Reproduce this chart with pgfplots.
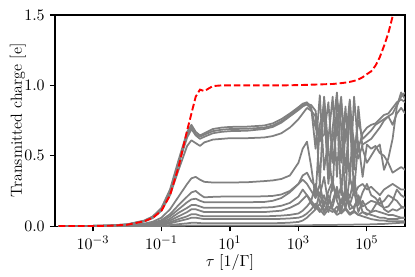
\documentclass[border=0pt]{standalone}
\usepackage{pgfplots}
\usepackage{pgfplotstable}
\pgfplotsset{compat=1.18}
\definecolor{mplgray}{RGB}{128,128,128}

% tau, red dashed curve (r), gray curves g1..g13
\pgfplotstableread{
tau      r      g1     g2     g3     g4     g5     g6     g7     g8     g9     g10    g11    g12    g13
1e-4     0.000  0.000  0.000  0.000  0.000  0.000  0.000  0.000  0.000  0.000  0.000  0.000  0.000  0.000
1e-3     0.001  0.002  0.002  0.002  0.002  0.001  0.001  0.001  0.001  0.001  0.001  0.000  0.000  0.000
3.162e-3 0.003  0.005  0.005  0.005  0.004  0.002  0.002  0.002  0.001  0.001  0.001  0.001  0.000  0.000
1e-2     0.010  0.013  0.012  0.012  0.011  0.006  0.004  0.004  0.003  0.002  0.002  0.001  0.001  0.000
3.162e-2 0.035  0.040  0.038  0.036  0.033  0.018  0.013  0.011  0.008  0.006  0.004  0.003  0.001  0.000
5.623e-2 0.060  0.070  0.067  0.064  0.058  0.032  0.023  0.019  0.015  0.011  0.008  0.006  0.002  0.001
0.1      0.110  0.130  0.125  0.120  0.110  0.060  0.043  0.035  0.027  0.020  0.014  0.010  0.004  0.001
0.1778   0.220  0.260  0.250  0.240  0.220  0.120  0.085  0.070  0.053  0.040  0.028  0.020  0.008  0.002
0.3162   0.420  0.470  0.455  0.440  0.400  0.210  0.150  0.120  0.095  0.070  0.050  0.035  0.014  0.003
0.5623   0.680  0.670  0.650  0.630  0.570  0.300  0.210  0.170  0.130  0.100  0.070  0.050  0.020  0.004
0.7499   0.800  0.720  0.700  0.690  0.610  0.340  0.240  0.190  0.150  0.120  0.085  0.060  0.024  0.004
1        0.920  0.670  0.655  0.645  0.590  0.350  0.250  0.195  0.150  0.120  0.085  0.060  0.024  0.005
1.334    0.970  0.645  0.635  0.620  0.570  0.330  0.225  0.180  0.140  0.110  0.075  0.055  0.022  0.005
1.778    0.960  0.660  0.650  0.635  0.595  0.315  0.205  0.170  0.130  0.100  0.070  0.050  0.020  0.005
3.162    0.995  0.690  0.675  0.660  0.615  0.310  0.208  0.170  0.130  0.100  0.070  0.050  0.020  0.005
5.623    1.000  0.700  0.685  0.670  0.620  0.310  0.210  0.170  0.130  0.100  0.070  0.050  0.020  0.005
10       1.000  0.705  0.690  0.675  0.625  0.310  0.210  0.170  0.130  0.100  0.070  0.050  0.020  0.005
31.62    1.000  0.707  0.692  0.678  0.625  0.312  0.210  0.170  0.130  0.100  0.070  0.050  0.020  0.005
100      1.000  0.715  0.700  0.690  0.630  0.320  0.212  0.172  0.132  0.100  0.070  0.050  0.020  0.005
177.8    1.000  0.730  0.715  0.705  0.640  0.325  0.215  0.180  0.135  0.105  0.072  0.050  0.021  0.005
316.2    1.000  0.760  0.745  0.735  0.660  0.335  0.225  0.200  0.145  0.110  0.075  0.052  0.022  0.005
562.3    1.001  0.800  0.790  0.780  0.700  0.360  0.250  0.240  0.165  0.130  0.080  0.055  0.025  0.005
1000     1.002  0.845  0.835  0.825  0.760  0.450  0.300  0.300  0.210  0.160  0.090  0.060  0.030  0.006
1334     1.003  0.870  0.860  0.850  0.800  0.550  0.360  0.330  0.260  0.190  0.110  0.070  0.040  0.006
1778     1.004  0.880  0.870  0.865  0.840  0.600  0.380  0.300  0.220  0.220  0.140  0.090  0.060  0.007
2371     1.005  0.840  0.860  0.830  0.820  0.420  0.320  0.250  0.180  0.160  0.180  0.120  0.090  0.007
3162     1.006  0.550  0.820  0.700  0.780  0.200  0.280  0.200  0.300  0.120  0.140  0.160  0.120  0.008
4217     1.007  0.930  0.600  0.620  0.300  0.720  0.220  0.300  0.160  0.240  0.100  0.120  0.160  0.008
5623     1.008  0.400  0.900  0.650  0.920  0.850  0.350  0.140  0.220  0.100  0.160  0.080  0.100  0.008
7499     1.009  0.620  0.350  0.880  0.550  0.300  0.150  0.250  0.100  0.180  0.220  0.120  0.140  0.009
1e4      1.010  0.920  0.700  0.450  0.250  0.600  0.300  0.320  0.180  0.140  0.120  0.100  0.120  0.009
13340    1.013  0.350  0.950  0.700  0.900  0.800  0.200  0.180  0.280  0.260  0.100  0.140  0.080  0.009
17780    1.016  0.880  0.450  0.920  0.720  0.220  0.280  0.100  0.120  0.160  0.180  0.090  0.100  0.010
23710    1.020  0.600  0.850  0.380  0.180  0.680  0.120  0.280  0.200  0.220  0.260  0.120  0.130  0.010
31620    1.025  0.900  0.300  0.800  0.880  0.750  0.350  0.200  0.150  0.120  0.160  0.080  0.090  0.010
42170    1.032  0.500  0.920  0.600  0.400  0.250  0.220  0.350  0.250  0.140  0.120  0.100  0.110  0.011
56230    1.042  0.750  0.550  0.480  0.850  0.600  0.280  0.150  0.100  0.200  0.220  0.080  0.080  0.011
74990    1.058  0.620  0.660  0.580  0.550  0.350  0.300  0.240  0.180  0.100  0.140  0.100  0.070  0.012
1e5      1.080  0.650  0.700  0.600  0.450  0.580  0.260  0.300  0.120  0.080  0.160  0.090  0.060  0.012
133400   1.100  0.680  0.720  0.620  0.500  0.550  0.280  0.220  0.100  0.100  0.180  0.080  0.050  0.013
177800   1.140  0.720  0.730  0.660  0.550  0.570  0.250  0.200  0.150  0.110  0.170  0.070  0.045  0.014
237100   1.200  0.740  0.760  0.700  0.580  0.520  0.220  0.160  0.200  0.100  0.150  0.060  0.040  0.015
316200   1.280  0.760  0.790  0.750  0.400  0.500  0.260  0.180  0.120  0.090  0.130  0.060  0.040  0.016
421700   1.370  0.780  0.800  0.780  0.480  0.450  0.280  0.220  0.100  0.080  0.140  0.050  0.035  0.018
562300   1.490  0.800  0.840  0.720  0.620  0.380  0.300  0.200  0.120  0.080  0.180  0.050  0.035  0.020
749900   1.650  0.860  0.880  0.800  0.850  0.400  0.280  0.180  0.110  0.070  0.260  0.050  0.035  0.022
1e6      1.850  0.920  0.900  0.840  0.950  0.420  0.260  0.140  0.130  0.060  0.220  0.060  0.035  0.024
1.318e6  2.100  0.950  0.880  0.800  0.900  0.400  0.260  0.130  0.130  0.060  0.200  0.060  0.035  0.025
}\data

\begin{document}
\begin{tikzpicture}
\begin{axis}[
    scale only axis,
    width=240pt,
    height=144.8pt,
    xmode=log,
    xmin=7.76e-5, xmax=1.29e6,
    ymin=0, ymax=1.5,
    xtick={1e-3,1e-1,1e1,1e3,1e5},
    xminorticks=false,
    ytick={0,0.5,1,1.5},
    yticklabel style={/pgf/number format/.cd, fixed, fixed zerofill, precision=1},
    tick label style={font=\fontsize{11}{13}\selectfont},
    label style={font=\fontsize{11}{13}\selectfont},
    tick align=outside,
    xtick pos=bottom,
    ytick pos=left,
    major tick length=3.5pt,
    every tick/.style={black, line width=0.8pt},
    axis line style={line width=0.8pt},
    xlabel={$\tau\;[1/\Gamma]$},
    ylabel={Transmitted charge [e]},
    xlabel style={at={(axis description cs:0.5,-0.171)}, anchor=center},
    ylabel style={at={(axis description cs:-0.106,0.5)}, anchor=center},
]
\pgfplotsinvokeforeach{1,...,13}{
  \addplot[mplgray, line width=1.2pt, line join=round] table[x=tau, y=g#1] {\data};
}
\addplot[red, line width=1.3pt, dash pattern=on 4.6pt off 2pt] table[x=tau, y=r] {\data};
\coordinate (sw) at (rel axis cs:0,0);
\coordinate (ne) at (rel axis cs:1,1);
\end{axis}
\pgfresetboundingbox
\path[use as bounding box] ([xshift=-37.7pt, yshift=-34.3pt]sw) rectangle ([xshift=6.9pt, yshift=10.3pt]ne);
\end{tikzpicture}
\end{document}
